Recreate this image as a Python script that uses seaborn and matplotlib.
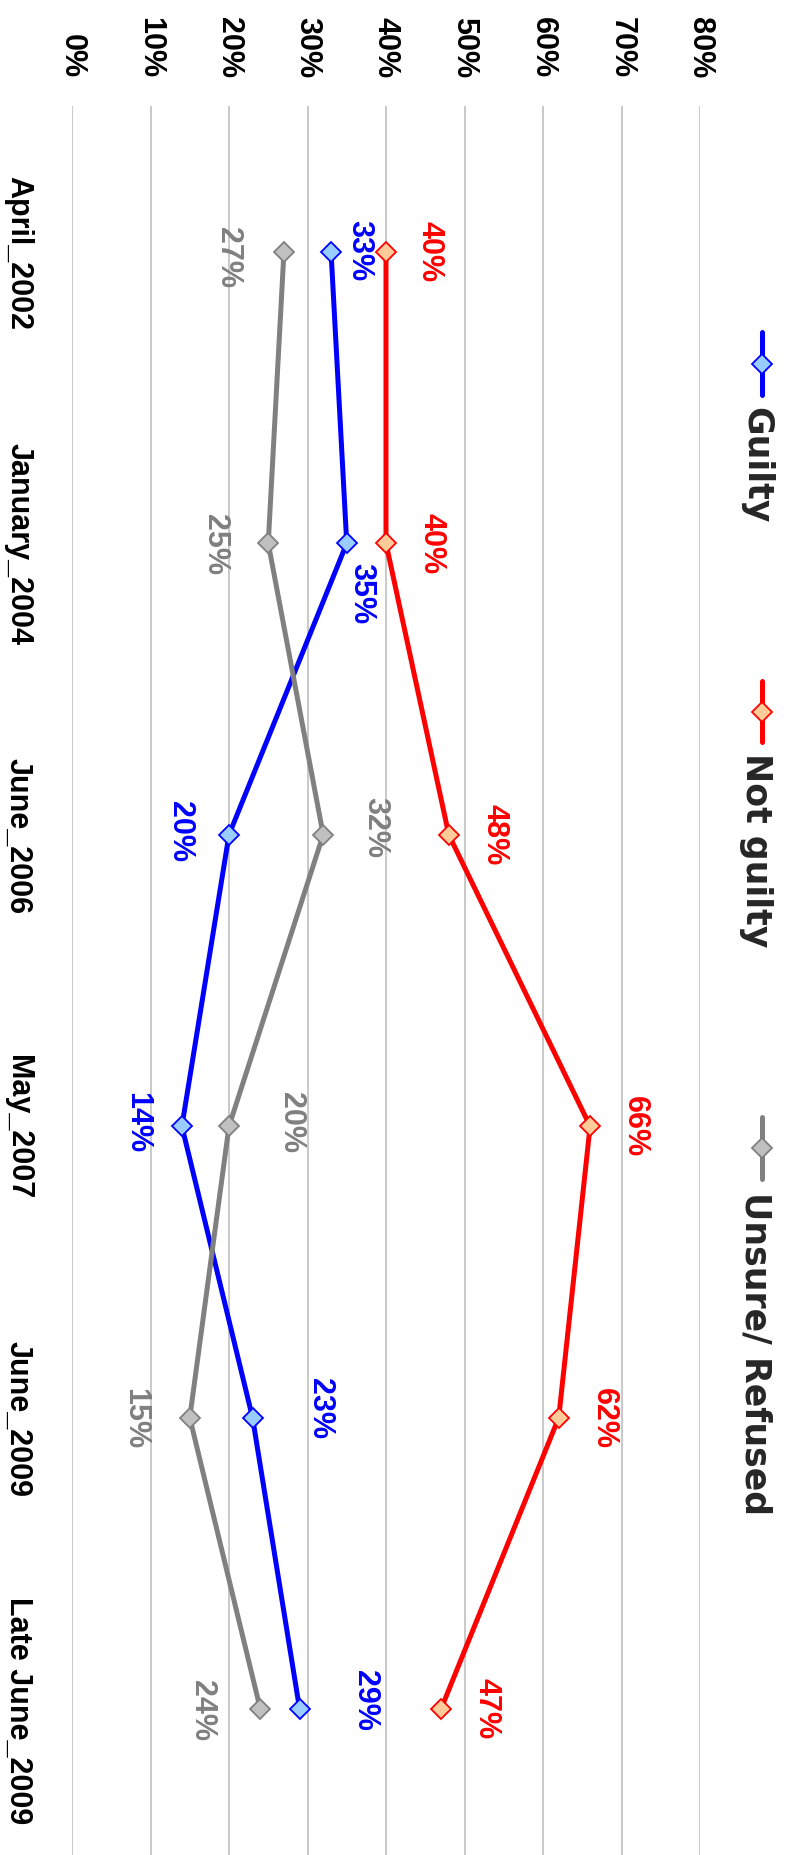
import numpy as np
import pandas as pd
import seaborn as sns
import matplotlib.pyplot as plt
from matplotlib.lines import Line2D

# survey data
dates = ['April_2002', 'January_2004', 'June_2006', 'May_2007', 'June_2009', 'Late June_2009']
guilty = [33, 35, 20, 14, 23, 29]
not_guilty = [40, 40, 48, 66, 62, 47]
unsure = [27, 25, 32, 20, 15, 24]
pct_ticks = [0, 10, 20, 30, 40, 50, 60, 70, 80]

sns.set_theme(style='white')
plt.rcParams['font.family'] = ['Liberation Sans', 'DejaVu Sans']

W, H = 789, 1856
fig = plt.figure(figsize=(W / 100, H / 100), dpi=100)
ax = fig.add_axes([72 / W, 0, 628 / W, 1 - 107 / H])

series = [
    ('Guilty', guilty, '#0000FF', '#99CCFF', '#0000FF'),
    ('Not guilty', not_guilty, '#FF0000', '#FFCC99', '#FF0000'),
    ('Unsure/ Refused', unsure, '#808080', '#C0C0C0', '#808080'),
]

# label offsets in pixels (dx right, dy up) for each point
offsets = {
    'Guilty': [(28, 2), (15, -49), (-49, 4), (-45, 5), (67, 10), (65, 10)],
    'Not guilty': [(44, 1), (45, 1), (46, 1), (45, 1), (45, 0), (46, 2)],
    'Unsure/ Refused': [(-56, -5), (-53, 0), (52, 8), (62, 5), (-55, 0), (-58, 0)],
}

pos = np.arange(len(dates))
for name, vals, col, face, edge in series:
    df = pd.DataFrame({'value': vals, 'pos': pos})
    sns.lineplot(data=df, x='value', y='pos', orient='y', sort=False, ax=ax,
                 color=col, lw=3.6, marker='D', markersize=10,
                 markerfacecolor=face, markeredgecolor=edge, markeredgewidth=1.3,
                 legend=False)
    for i, v in enumerate(vals):
        dx, dy = offsets[name][i]
        ax.annotate(f'{v}%', (v, i), xytext=(dx, dy), textcoords='offset pixels',
                    rotation=-90, ha='center', va='center', color=col,
                    fontsize=22, fontweight='bold')

ax.set_xlim(0, 80)
ax.set_ylim(len(dates) - 0.5, -0.5)
ax.set_xticks(pct_ticks)
ax.set_xticklabels([f'{t}%' for t in pct_ticks], rotation=-90, fontsize=22, fontweight='bold')
ax.xaxis.tick_top()
ax.set_yticks(pos)
ax.set_yticklabels(dates, rotation=-90, va='center', fontsize=22, fontweight='bold')
ax.tick_params(axis='x', length=0, pad=21, colors='black')
ax.tick_params(axis='y', length=0, pad=28, colors='black')
ax.set_xlabel('')
ax.set_ylabel('')
ax.grid(axis='x', color='#C0C0C0', lw=1.2)
ax.grid(axis='y', visible=False)
for s in ax.spines.values():
    s.set_visible(False)

# legend drawn sideways to match the rotated layout
leg_items = [(333, 396, 407), (682, 743, 753), (1118, 1180, 1192)]
for (name, vals, col, face, edge), (y0, y1, ty) in zip(series, leg_items):
    fig.add_artist(Line2D([762 / W, 762 / W], [1 - y0 / H, 1 - y1 / H], color=col, lw=3.6,
                          solid_capstyle='round', transform=fig.transFigure))
    fig.add_artist(Line2D([762 / W], [1 - (y0 + y1) / 2 / H], marker='D', markersize=10,
                          markerfacecolor=face, markeredgecolor=edge, markeredgewidth=1.3,
                          transform=fig.transFigure))
    fig.text(756 / W, 1 - ty / H, name, rotation=-90, ha='center', va='top',
             fontsize=25, fontweight='bold', family=['DejaVu Sans'])

fig.savefig('out.png', dpi=100)
